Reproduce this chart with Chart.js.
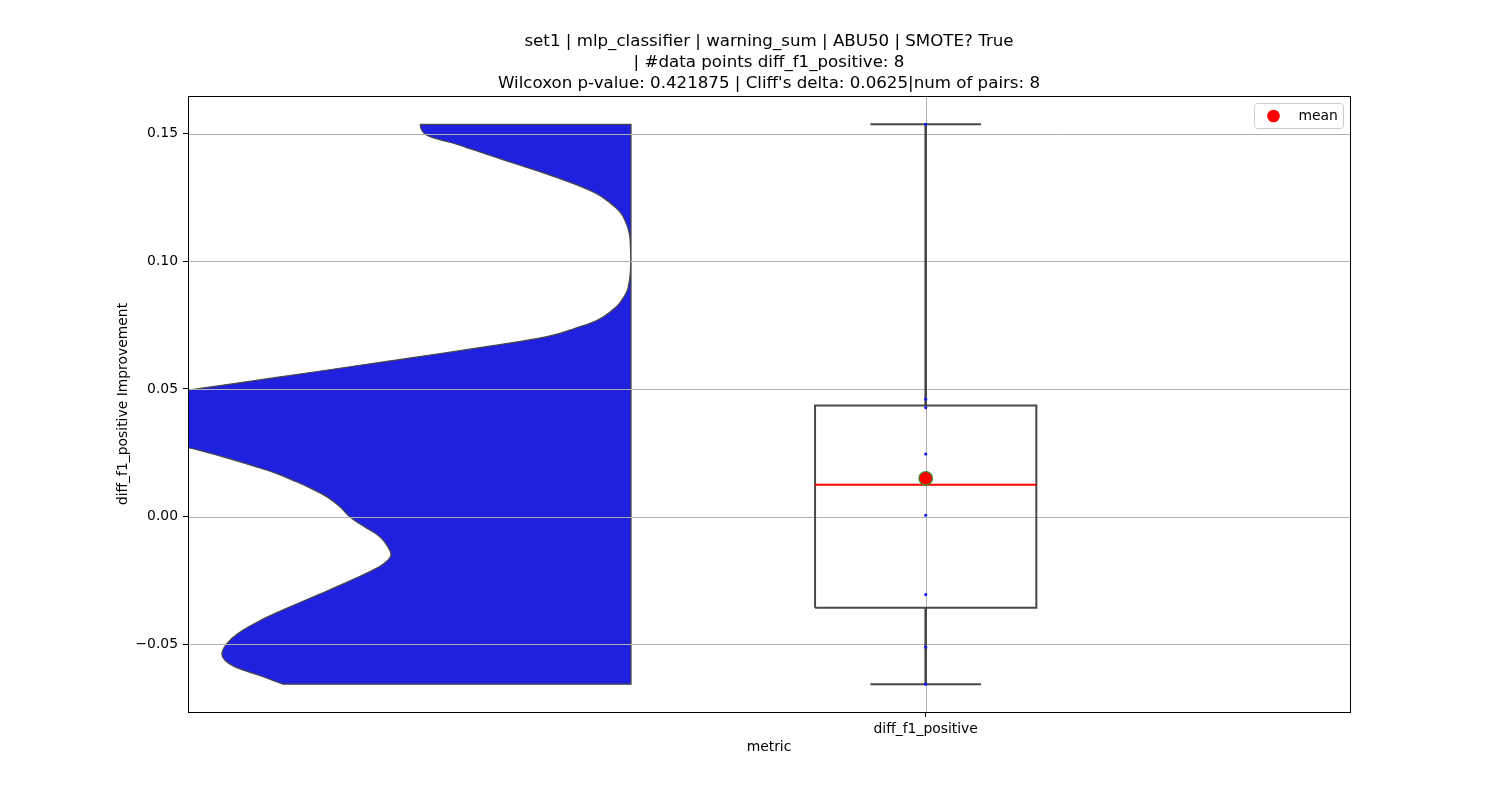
<!DOCTYPE html>
<html>
<head>
<meta charset="utf-8">
<script src="https://cdn.jsdelivr.net/npm/chart.js@4.4.1/dist/chart.umd.min.js"></script>
<style>
  html, body { margin: 0; padding: 0; background: #ffffff; }
  canvas { display: block; }
</style>
</head>
<body>
<canvas id="chart" width="1500" height="800"></canvas>
<script>
// ---------------- data ----------------
const titleLines = [
  'set1 | mlp_classifier | warning_sum | ABU50 | SMOTE? True',
  '| #data points diff_f1_positive: 8',
  "Wilcoxon p-value: 0.421875 | Cliff's delta: 0.0625|num of pairs: 8"
];
const categories = ['diff_f1_positive'];
const xAxisTitle = 'metric';
const yAxisTitle = 'diff_f1_positive Improvement';
const legendLabel = 'mean';
const yTicks = [-0.05, 0.00, 0.05, 0.10, 0.15];

// the 8 paired differences (blue dots)
const diffValues = [0.1537, 0.0460, 0.0427, 0.0245, 0.0005, -0.0306, -0.0512, -0.0657];

// half-violin outline: value (top to bottom) and half-width in x-axis units
const violinY = [0.1537, 0.1513, 0.1494, 0.1477, 0.1461, 0.1447, 0.1422, 0.1396, 0.1369, 0.1345,
  0.1317, 0.1290, 0.1265, 0.1239, 0.1213, 0.1188, 0.1161, 0.1109, 0.1055, 0.0999,
  0.0949, 0.0899, 0.0875, 0.0847, 0.0821, 0.0782, 0.0757, 0.0738, 0.0717, 0.0698,
  0.0679, 0.0655, 0.0625, 0.0586, 0.0547, 0.0495, 0.0456, 0.0416, 0.0377, 0.0338,
  0.0299, 0.0270, 0.0234, 0.0194, 0.0168, 0.0142, 0.0116, 0.0077, 0.0038, -0.0002,
  -0.0041, -0.0080, -0.0119, -0.0152, -0.0184, -0.0210, -0.0250, -0.0302, -0.0354, -0.0406,
  -0.0458, -0.0498, -0.0537, -0.0563, -0.0589, -0.0622, -0.0657];
const violinHalfWidth = [0.763, 0.756, 0.738, 0.691, 0.636, 0.597, 0.528, 0.456, 0.380, 0.311,
  0.239, 0.174, 0.124, 0.087, 0.058, 0.036, 0.022, 0.006, 0.002, 0.001,
  0.003, 0.010, 0.018, 0.034, 0.054, 0.101, 0.148, 0.202, 0.260, 0.336,
  0.445, 0.589, 0.777, 1.023, 1.269, 1.602, 1.826, 1.988, 2.043, 1.970,
  1.753, 1.602, 1.475, 1.352, 1.280, 1.222, 1.168, 1.099, 1.052, 1.016,
  0.962, 0.907, 0.879, 0.868, 0.893, 0.933, 1.012, 1.121, 1.233, 1.338,
  1.421, 1.461, 1.479, 1.468, 1.432, 1.345, 1.258];

// ---------------- layout constants ----------------
const xMin = -2.667, xMax = 1.534;
const yMin = -0.0766, yMax = 0.1648;
const violinPos = -1.0654;
const boxPos = 0;
const boxHalf = 0.4, capHalf = 0.2;

const FONT = 'DejaVu Sans';
Chart.defaults.font.family = FONT;
Chart.defaults.color = '#000000';

// ---------------- box statistics from the data ----------------
function quantile(arr, q) {
  const s = [...arr].sort((a, b) => a - b);
  const pos = (s.length - 1) * q;
  const lo = Math.floor(pos), hi = Math.ceil(pos);
  return s[lo] + (s[hi] - s[lo]) * (pos - lo);
}
const q1 = quantile(diffValues, 0.25);
const med = quantile(diffValues, 0.5);
const q3 = quantile(diffValues, 0.75);
const iqr = q3 - q1;
const loWhisk = Math.min(...diffValues.filter(v => v >= q1 - 1.5 * iqr));
const hiWhisk = Math.max(...diffValues.filter(v => v <= q3 + 1.5 * iqr));
const meanVal = diffValues.reduce((a, b) => a + b, 0) / diffValues.length;

// ---------------- datasets ----------------
// smooth outline; corner points are doubled so the spline keeps them sharp
const last = violinY.length - 1;
const topStart = { x: violinPos - violinHalfWidth[0], y: violinY[0] };
const botEnd = { x: violinPos - violinHalfWidth[last], y: violinY[last] };
const centerBot = { x: violinPos, y: violinY[last] };
const centerTop = { x: violinPos, y: violinY[0] };
const violinPts = [topStart, topStart];
for (let i = 1; i < last; i++) violinPts.push({ x: violinPos - violinHalfWidth[i], y: violinY[i] });
violinPts.push(botEnd, botEnd, centerBot, centerBot, centerTop, centerTop, topStart);

const GRAY = '#484848';
function seg(points, color, width, order) {
  return { type: 'line', data: points, borderColor: color, borderWidth: width,
           pointRadius: 0, fill: false, tension: 0, order: order, borderCapStyle: 'butt' };
}

const datasets = [
  { type: 'line', label: 'violin', data: violinPts, fill: 'shape',
    backgroundColor: '#2020df', borderColor: GRAY, borderWidth: 1.25,
    pointRadius: 0, tension: 0.4, capBezierPoints: false, order: 20 },
  seg([{ x: boxPos - boxHalf, y: q1 }, { x: boxPos + boxHalf, y: q1 }, { x: boxPos + boxHalf, y: q3 },
       { x: boxPos - boxHalf, y: q3 }, { x: boxPos - boxHalf, y: q1 }], GRAY, 2, 9),
  seg([{ x: boxPos, y: q3 }, { x: boxPos, y: hiWhisk }], GRAY, 2.6, 8),
  seg([{ x: boxPos, y: q1 }, { x: boxPos, y: loWhisk }], GRAY, 2.6, 8),
  seg([{ x: boxPos - capHalf, y: hiWhisk }, { x: boxPos + capHalf, y: hiWhisk }], GRAY, 2, 8),
  seg([{ x: boxPos - capHalf, y: loWhisk }, { x: boxPos + capHalf, y: loWhisk }], GRAY, 2, 8),
  seg([{ x: boxPos - boxHalf, y: med }, { x: boxPos + boxHalf, y: med }], '#ff0000', 2, 7),
  { type: 'scatter', label: 'points', data: diffValues.map(v => ({ x: boxPos, y: v })),
    pointRadius: 1.6, pointBackgroundColor: '#1414ff', pointBorderWidth: 0, order: 6 },
  { type: 'scatter', label: legendLabel, data: [{ x: boxPos, y: meanVal }],
    pointRadius: 6.8, pointBackgroundColor: '#ff0000', pointBorderColor: '#2e9a2e',
    pointBorderWidth: 1.2, order: 5 }
];

// ---------------- plugins ----------------
const gridOverViolin = {
  id: 'gridOverViolin',
  afterDatasetDraw(chart, args) {
    if (args.index !== 0) return;
    const { ctx, chartArea: a, scales } = chart;
    ctx.save();
    ctx.strokeStyle = '#b0b0b0';
    ctx.lineWidth = 1;
    ctx.beginPath();
    yTicks.forEach(v => {
      const py = Math.round(scales.y.getPixelForValue(v)) + 0.5;
      ctx.moveTo(a.left, py); ctx.lineTo(a.right, py);
    });
    categories.forEach((c, i) => {
      const px = Math.round(scales.x.getPixelForValue(i)) + 0.5;
      ctx.moveTo(px, a.top); ctx.lineTo(px, a.bottom);
    });
    ctx.stroke();
    ctx.restore();
  }
};

const frameAndLegend = {
  id: 'frameAndLegend',
  afterDraw(chart) {
    const { ctx, chartArea: a } = chart;
    ctx.save();
    // spines
    ctx.strokeStyle = '#000000';
    ctx.lineWidth = 1;
    ctx.strokeRect(Math.round(a.left) + 0.5, Math.round(a.top) + 0.5,
                   Math.round(a.right - a.left), Math.round(a.bottom - a.top));
    // legend box (top right, inside axes)
    const w = 89, h = 25;
    const lx = a.right - 7 - w + 0.5, ly = a.top + 7 + 0.5;
    ctx.beginPath();
    ctx.roundRect(lx, ly, w, h, 3);
    ctx.fillStyle = 'rgba(255,255,255,0.8)';
    ctx.fill();
    ctx.strokeStyle = '#cccccc';
    ctx.stroke();
    ctx.beginPath();
    ctx.arc(lx + 19, ly + h / 2, 6.3, 0, Math.PI * 2);
    ctx.fillStyle = '#ff0000';
    ctx.fill();
    ctx.fillStyle = '#000000';
    ctx.font = '13.9px "' + FONT + '"';
    ctx.textBaseline = 'middle';
    ctx.textAlign = 'left';
    ctx.fillText(legendLabel, lx + 44, ly + h / 2);
    ctx.restore();
  }
};

function fmtTick(v) {
  const s = Math.abs(v).toFixed(2);
  return (v < -1e-9 ? '\u2212' : '') + s;
}

new Chart(document.getElementById('chart'), {
  type: 'scatter',
  data: { datasets },
  options: {
    responsive: false,
    devicePixelRatio: 1,
    animation: false,
    events: [],
    layout: { padding: { top: 31.5, right: 150, bottom: 0, left: 0 } },
    plugins: {
      legend: { display: false },
      tooltip: { enabled: false },
      title: {
        display: true, text: titleLines, fullSize: false, color: '#000000',
        font: { family: FONT, size: 16.67, weight: 'normal', lineHeight: 1.26 },
        padding: { top: 0, bottom: 1.5 }
      }
    },
    scales: {
      x: {
        type: 'linear', min: xMin, max: xMax,
        afterBuildTicks: s => { s.ticks = categories.map((c, i) => ({ value: i })); },
        afterFit: s => { s.height = 88; },
        ticks: { callback: v => categories[Math.round(v)] ?? '', maxRotation: 0, autoSkip: false,
                 font: { size: 13.9 }, color: '#000000', padding: 4 },
        grid: { drawOnChartArea: false, tickLength: 5, tickColor: '#000000', color: '#000000' },
        border: { display: false },
        title: { display: true, text: xAxisTitle, color: '#000000', font: { size: 13.9 },
                 padding: { top: 0, bottom: 44 } }
      },
      y: {
        type: 'linear', min: yMin, max: yMax,
        afterBuildTicks: s => { s.ticks = yTicks.map(v => ({ value: v })); },
        afterFit: s => { s.width = 188; },
        ticks: { callback: v => fmtTick(v), autoSkip: false, font: { size: 13.9 },
                 color: '#000000', padding: 5 },
        grid: { drawOnChartArea: false, tickLength: 5, tickColor: '#000000', color: '#000000' },
        border: { display: false },
        title: { display: true, text: yAxisTitle, color: '#000000', font: { size: 13.9 },
                 padding: { top: 114.7, bottom: 0 } }
      }
    }
  },
  plugins: [gridOverViolin, frameAndLegend]
});
</script>
</body>
</html>
